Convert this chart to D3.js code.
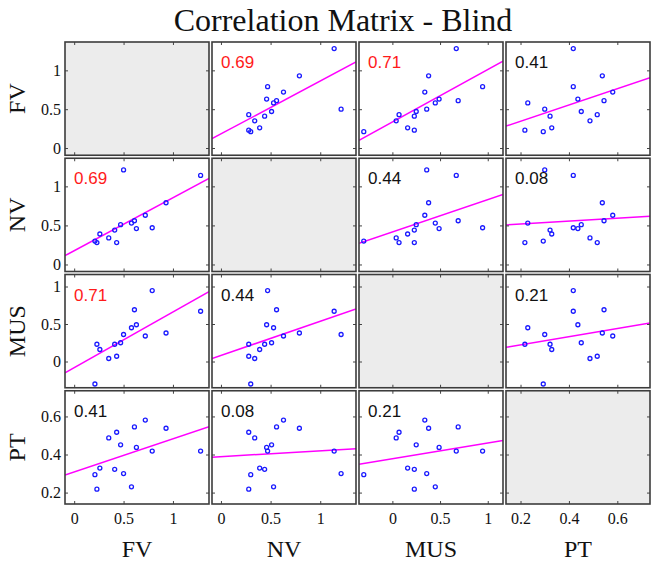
<!DOCTYPE html>
<html><head><meta charset="utf-8">
<script src="https://cdn.jsdelivr.net/npm/d3@7"></script>
<style>body{margin:0;background:#fff}</style></head>
<body>
<svg id="chart" width="663" height="564"></svg>
<script>
// ---- data ----
const variables = ["FV", "NV", "MUS", "PT"];
const FV  = [0.21, 0.23, 0.26, 0.35, 0.41, 0.43, 0.47, 0.50, 0.58, 0.61, 0.63, 0.72, 0.79, 0.93, 1.28];
const NV  = [0.30, 0.28, 0.39, 0.34, 0.44, 0.28, 0.51, 1.21, 0.53, 0.56, 0.46, 0.63, 0.47, 0.79, 1.14];
const MUS = [-0.30, 0.23, 0.16, 0.04, 0.23, 0.07, 0.25, 0.36, 0.45, 0.69, 0.49, 0.34, 0.946, 0.38, 0.67];
const PT  = [0.294, 0.218, 0.329, 0.487, 0.322, 0.517, 0.451, 0.30, 0.23, 0.545, 0.437, 0.581, 0.418, 0.538, 0.418];
const fvLimits  = [-0.093, 1.365];
const nvLimits  = [-0.09, 1.36];
const musLimits = [-0.35, 1.16];
const ptLimits  = [0.14, 0.735];
const fvTicks  = [0, 0.5, 1];
const nvTicks  = [0, 0.5, 1];
const musTicks = [0, 0.5, 1];
const ptTicks  = [0.2, 0.4, 0.6];
const corrRow1 = [null, 0.69, 0.71, 0.41];
const corrRow2 = [0.69, null, 0.44, 0.08];
const corrRow3 = [0.71, 0.44, null, 0.21];
const corrRow4 = [0.41, 0.08, 0.21, null];
const title = "Correlation Matrix - Blind";

const series = [FV, NV, MUS, PT];
const limits = [fvLimits, nvLimits, musLimits, ptLimits];
const ticks = [fvTicks, nvTicks, musTicks, ptTicks];
const corr = [corrRow1, corrRow2, corrRow3, corrRow4];

// ---- layout ----
const svg = d3.select("#chart");
const L = 65, R = 650, T = 42, B = 504, gap = 3, n = 4;
const pw = (R - L - gap * (n - 1)) / n;
const ph = (B - T - gap * (n - 1)) / n;
const serif = "'Liberation Serif', 'Times New Roman', serif";
const sans = "'Liberation Sans', Arial, sans-serif";
const fmt = v => d3.format("~g")(v);

svg.append("text").attr("x", 343).attr("y", 31).attr("text-anchor", "middle")
  .attr("font-family", serif).attr("font-size", 32).attr("fill", "#111").text(title);

function linreg(xs, ys) {
  const mx = d3.mean(xs), my = d3.mean(ys);
  let sxy = 0, sxx = 0;
  xs.forEach((x, k) => { sxy += (x - mx) * (ys[k] - my); sxx += (x - mx) ** 2; });
  const b = sxy / sxx;
  return { b, a: my - b * mx };
}

for (let i = 0; i < n; i++) {
  for (let j = 0; j < n; j++) {
    const x0 = L + j * (pw + gap), y0 = T + i * (ph + gap);
    const xs = d3.scaleLinear().domain(limits[j]).range([0, pw]);
    const ys = d3.scaleLinear().domain(limits[i]).range([ph, 0]);
    const g = svg.append("g").attr("transform", `translate(${x0},${y0})`);
    const diag = i === j;
    g.append("rect").attr("width", pw).attr("height", ph)
      .attr("fill", diag ? "#ececec" : "#ffffff");
    if (!diag) {
      const cid = `clip-${i}-${j}`;
      g.append("clipPath").attr("id", cid).append("rect").attr("width", pw).attr("height", ph);
      const gc = g.append("g").attr("clip-path", `url(#${cid})`);
      const { a, b } = linreg(series[j], series[i]);
      const dom = limits[j];
      gc.append("line")
        .attr("x1", xs(dom[0])).attr("y1", ys(a + b * dom[0]))
        .attr("x2", xs(dom[1])).attr("y2", ys(a + b * dom[1]))
        .attr("stroke", "#ff00ff").attr("stroke-width", 1.5);
      gc.selectAll("circle").data(series[j].map((v, k) => [v, series[i][k]]))
        .join("circle").attr("cx", d => xs(d[0])).attr("cy", d => ys(d[1])).attr("r", 2)
        .attr("fill", "none").attr("stroke", "#1a1aff").attr("stroke-width", 1.3);
      const r = corr[i][j];
      g.append("text").attr("x", 9).attr("y", 26)
        .attr("font-family", sans).attr("font-size", 17)
        .attr("fill", r > 0.5 ? "#ff1a1a" : "#111").text(r.toFixed(2));
    }
    // axes (inner ticks on all four sides)
    const styleAxis = sel => {
      sel.select(".domain").remove();
      sel.selectAll(".tick line").attr("stroke", "#444").attr("stroke-width", 1);
      sel.selectAll("text").attr("font-family", serif).attr("font-size", 16).attr("fill", "#111");
    };
    const showX = i === n - 1, showY = j === 0;
    g.append("g").attr("transform", `translate(0,${ph})`)
      .call(d3.axisBottom(xs).tickValues(ticks[j]).tickSize(-3).tickPadding(9)
        .tickFormat(showX ? fmt : () => "")).call(styleAxis);
    g.append("g")
      .call(d3.axisTop(xs).tickValues(ticks[j]).tickSize(-3).tickFormat(() => "")).call(styleAxis);
    g.append("g")
      .call(d3.axisLeft(ys).tickValues(ticks[i]).tickSize(-3).tickPadding(4)
        .tickFormat(showY ? fmt : () => "")).call(styleAxis);
    g.append("g").attr("transform", `translate(${pw},0)`)
      .call(d3.axisRight(ys).tickValues(ticks[i]).tickSize(-3).tickFormat(() => "")).call(styleAxis);
    g.append("rect").attr("width", pw).attr("height", ph)
      .attr("fill", "none").attr("stroke", "#3c3c3c").attr("stroke-width", 1.6);
  }
}

// variable names
variables.forEach((name, k) => {
  const cx = L + k * (pw + gap) + pw / 2;
  svg.append("text").attr("x", cx).attr("y", 557).attr("text-anchor", "middle")
    .attr("font-family", serif).attr("font-size", 24).attr("fill", "#111").text(name);
  const cy = T + k * (ph + gap) + ph / 2;
  svg.append("text").attr("transform", `translate(25,${cy}) rotate(-90)`)
    .attr("text-anchor", "middle").attr("font-family", serif).attr("font-size", 24)
    .attr("fill", "#111").text(name);
});
</script>
</body></html>
